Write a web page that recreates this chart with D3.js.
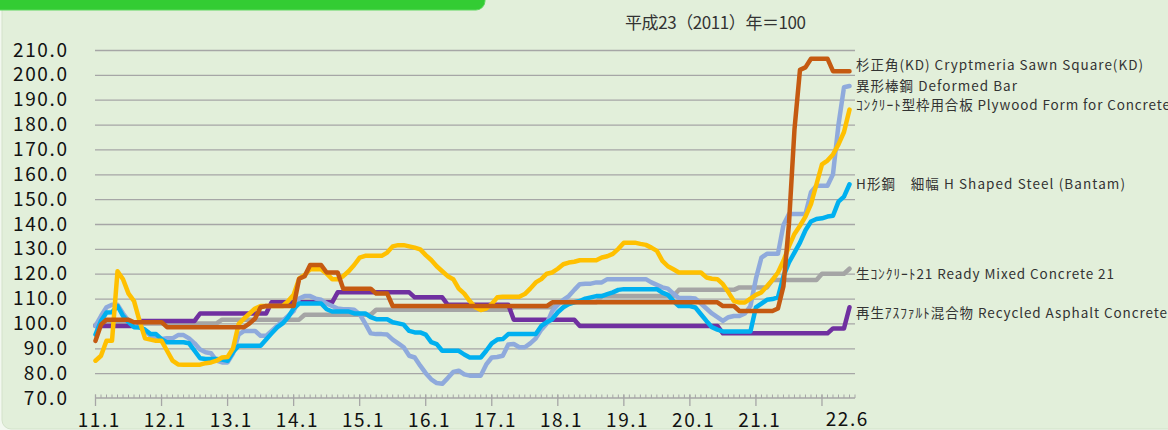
<!DOCTYPE html>
<html>
<head>
<meta charset="utf-8">
<script src="https://cdn.jsdelivr.net/npm/d3@7"></script>
<style>
  html, body { margin: 0; padding: 0; background: #f3f8f0; }
  svg { display: block; }
  text { font-family: 'Noto Sans CJK JP', 'Noto Sans', sans-serif; }
</style>
</head>
<body>
<svg id="chart" width="1168" height="430"></svg>
<script>
// months 2011.1 .. 2022.6
const months = []
for (let yr = 11; yr <= 22; yr++) {
  for (let m = 1; m <= 12; m++) {
    if (yr === 22 && m > 6) break
    months.push(`${yr}.${m}`)
  }
}

const yTicks = [70, 80, 90, 100, 110, 120, 130, 140, 150, 160, 170, 180, 190, 200, 210]
const yearTicks = ['11.1', '12.1', '13.1', '14.1', '15.1', '16.1', '17.1', '18.1', '19.1', '20.1', '21.1', '22.1']
const xLabels = ['11.1', '12.1', '13.1', '14.1', '15.1', '16.1', '17.1', '18.1', '19.1', '20.1', '21.1', '22.6']

const names = [
  '杉正角(KD) Cryptmeria Sawn Square(KD)',
  '異形棒鋼 Deformed Bar',
  'ｺﾝｸﾘｰﾄ型枠用合板 Plywood Form for Concrete',
  'H形鋼　細幅 H Shaped Steel (Bantam)',
  '生ｺﾝｸﾘｰﾄ21 Ready Mixed Concrete 21',
  '再生ｱｽﾌｧﾙﾄ混合物 Recycled Asphalt Concrete'
]

// one row per year
const sugi = [
  93, 99.5, 101.5, 101.5, 101.5, 101.5, 101.5, 100.5, 100.5, 100.5, 100.5, 100.5,
  100.5, 98.5, 98.5, 98.5, 98.5, 98.5, 98.5, 98.5, 98.5, 98.5, 98.5, 98.5,
  98.5, 98.5, 98.5, 98.5, 100, 102, 106.5, 107, 107, 107, 107, 107,
  107, 118, 119, 123.5, 123.5, 123.5, 120.5, 120.5, 120.5, 114, 114, 114,
  114, 114, 114, 112, 112, 112, 107, 107, 107, 107, 107, 107,
  107, 107, 107, 107, 107, 107, 107, 107, 107, 107, 107, 107,
  107, 107, 107, 107, 107, 107, 107, 107, 107, 107, 107, 108.5,
  108.5, 108.5, 108.5, 108.5, 108.5, 108.5, 108.5, 108.5, 108.5, 108.5, 108.5, 108.5,
  108.5, 108.5, 108.5, 108.5, 108.5, 108.5, 108.5, 108.5, 108.5, 108.5, 108.5, 108.5,
  108.5, 108.5, 108.5, 108.5, 108.5, 108.5, 107, 107, 107, 105, 105, 105,
  105, 105, 105, 105, 106, 115, 140, 178, 202, 203, 206.5, 206.5,
  206.5, 206.5, 201.5, 201.5, 201.5, 201.5
]

const deformedBar = [
  99, 103, 106.5, 107.5, 107.5, 104, 101, 99, 98.5, 97, 95, 94,
  93.7, 94, 94, 95.3, 95.3, 94, 92, 89.5, 88.4, 88, 85, 84.3,
  84.3, 88, 95.5, 97, 97, 97, 95, 95, 97, 99, 101, 103,
  105, 110, 111, 111, 110, 109.5, 108, 107, 106, 105.7, 105.7, 105.5,
  103.7, 100, 96, 95.7, 95.7, 95.5, 93.5, 92, 90.4, 87, 86.3, 83,
  80, 77.5, 76, 75.7, 78, 80.5, 81, 79.5, 79, 79, 79, 83.5,
  86.3, 86.5, 87, 91.5, 91.7, 90.4, 90.4, 92, 94, 97.5, 100, 105,
  107.5, 109.5, 111, 113.5, 115.8, 116, 116, 116.5, 116.5, 117.8, 117.8, 117.8,
  117.8, 117.8, 117.8, 117.8, 117.8, 116.5, 115.5, 114.5, 114, 112, 110.2, 110.2,
  110.2, 110, 108, 106, 104, 102.5, 101, 102.5, 103, 103, 104, 107,
  118, 126.5, 128, 128, 128, 139.6, 144, 144, 144, 144, 152.8, 155.4,
  155.4, 155.4, 160, 180, 195, 195.5
]

const plywood = [
  85, 87, 93, 93, 121, 117.8, 112, 109, 101, 94, 93.5, 93,
  93, 89, 85, 83.5, 83.4, 83.4, 83.4, 83.4, 84, 84.3, 85, 86.3,
  86.5, 90, 99.7, 102, 104, 106, 107, 107, 107, 107, 107, 109,
  111.5, 118, 119.5, 121.8, 121.8, 121.8, 120, 117.8, 117.8, 119, 121, 123.5,
  126.5, 127.2, 127.2, 127.2, 127.2, 128.5, 131, 131.5, 131.5, 131, 130.5, 129.8,
  127.5, 125.5, 123, 121, 119, 117.8, 114, 112, 109, 106.5, 105.4, 106,
  107.8, 110.5, 110.7, 110.7, 110.7, 110.7, 111.8, 114, 116.5, 117.8, 120, 120.5,
  122, 123.8, 124.5, 124.8, 125.4, 125.4, 125.4, 125.4, 126.5, 127, 128, 130,
  132.5, 132.5, 132.5, 132, 131.6, 130.5, 129.2, 125.2, 123, 121.8, 120.5, 120.5,
  120.5, 120.5, 120.5, 118.5, 118, 117.8, 115.8, 112.5, 109, 108.4, 108.4, 110,
  111.5, 112.5, 115, 117.5, 120.5, 125.2, 131, 136, 139.3, 143, 148, 156,
  164, 165.5, 168, 172, 177, 186
]

const hSteel = [
  95.5, 101, 104.4, 104.5, 107, 103, 100.5, 98.5, 98.4, 97.5, 95.7, 95.7,
  93.7, 92.4, 92.4, 92.4, 92.4, 92, 89, 86, 85.7, 85.7, 85.7, 85.5,
  85, 88.5, 91, 91, 91, 91, 91, 93.5, 96, 98.4, 100, 102.5,
  106, 108, 108, 108, 108, 108, 105.7, 104.8, 104.8, 104.8, 104.8, 104,
  104, 104, 102.5, 101.7, 101.7, 101.7, 100.5, 100, 99.5, 97, 96.4, 96.4,
  95.5, 92.5, 91.7, 89, 89, 89, 89, 87.5, 86.3, 86.3, 86.3, 89,
  92, 93.5, 93.7, 95.7, 95.7, 95.7, 95.7, 95.7, 95.7, 99, 100.5, 101.7,
  104.5, 106.5, 107.8, 108.5, 109, 110, 110.5, 111, 111, 111.8, 112.5, 113.5,
  113.8, 113.8, 113.8, 113.8, 113.8, 113.8, 113.8, 112.4, 111.5, 109, 107, 107,
  107, 106.4, 103.7, 101, 98.5, 97.5, 96.8, 96.8, 96.8, 96.8, 96.8, 96.8,
  106.5, 108, 109.5, 109.8, 110.5, 119, 124.5, 128.5, 132.5, 137.5, 141, 142,
  142.3, 143, 143.3, 149, 151, 156
]

const readyMixed = [
  99.5, 100, 100, 100, 100, 100, 100, 100, 100, 100, 100, 100,
  100, 100, 100, 100, 100, 100, 100, 100, 100, 100, 100, 101.5,
  101.5, 101.5, 101.5, 101.5, 101.5, 101.5, 101.5, 101.5, 101.5, 101.5, 101.5, 101.5,
  101.5, 101.5, 103.5, 103.5, 103.5, 103.5, 103.5, 103.5, 103.5, 103.5, 103.5, 103.5,
  103.5, 103.5, 103.5, 105.5, 105.5, 105.5, 105.5, 105.5, 105.5, 105.5, 105.5, 105.5,
  105.5, 105.5, 105.5, 105.5, 105.5, 105.5, 105.5, 105.5, 105.5, 105.5, 105.5, 105.5,
  105.5, 105.5, 105.5, 105.5, 106.5, 106.5, 106.5, 106.5, 106.5, 106.5, 106.5, 106.5,
  108.5, 108.5, 108.5, 108.5, 108.5, 108.5, 108.5, 108.5, 111, 111, 111, 111,
  111, 111, 111, 111, 111, 111, 111, 111, 111, 111, 113.5, 113.5,
  113.5, 113.5, 113.5, 113.5, 113.5, 113.5, 113.5, 113.5, 113.5, 114.5, 114.5, 114.5,
  114.5, 114.5, 114.5, 117.5, 117.5, 117.5, 117.5, 117.5, 117.5, 117.5, 117.5, 117.5,
  120, 120, 120, 120, 120, 122
]

const asphalt = [
  99, 99, 99, 99, 99, 99, 99, 99, 101, 101, 101, 101,
  101, 101, 101, 101, 101, 101, 101, 104, 104, 104, 104, 104,
  104, 104, 104, 104, 104, 104, 104, 104, 108.5, 108.5, 108.5, 108.5,
  108.5, 108.5, 108.5, 108.5, 108.5, 108.5, 108.5, 108.5, 112.5, 112.5, 112.5, 112.5,
  112.5, 112.5, 112.5, 112.5, 112.5, 112.5, 112.5, 112.5, 112.5, 112.5, 110.5, 110.5,
  110.5, 110.5, 110.5, 110.5, 107.5, 107.5, 107.5, 107.5, 107.5, 107.5, 107.5, 107.5,
  107.5, 107.5, 107.5, 107.5, 101.5, 101.5, 101.5, 101.5, 101.5, 101.5, 101.5, 101.5,
  101.5, 101.5, 101.5, 101.5, 99, 99, 99, 99, 99, 99, 99, 99,
  99, 99, 99, 99, 99, 99, 99, 99, 99, 99, 99, 99,
  99, 99, 99, 99, 99, 99, 96, 96, 96, 96, 96, 96,
  96, 96, 96, 96, 96, 96, 96, 96, 96, 96, 96, 96,
  96, 96, 98, 98, 98, 106.5
]

const series = [sugi, deformedBar, plywood, hSteel, readyMixed, asphalt]
const colors = ['#c55a11', '#8faadc', '#ffc000', '#00b0f0', '#a5a5a5', '#7030a0']
const drawOrder = [4, 5, 1, 3, 2, 0]
// nudge end labels so they don't collide
const labelShift = [-6, 0, -4, 0, 6, 6]

const svg = d3.select('#chart')
const W = 1168
const H = 430

// panel + green header tab
svg.append('rect')
  .attr('x', 2).attr('y', -20)
  .attr('width', W + 20).attr('height', H + 19)
  .attr('rx', 9)
  .attr('fill', '#e2efda')
  .attr('stroke', '#d3e2ca')

svg.append('rect')
  .attr('x', -12).attr('y', -20)
  .attr('width', 497).attr('height', 30)
  .attr('rx', 9)
  .attr('fill', '#33cc33')
  .attr('stroke', '#5fd85f')
  .attr('stroke-width', 1)

const xPositionScale = d3.scalePoint().domain(months).range([95.5, 849.5])
const yPositionScale = d3.scaleLinear().domain([70, 210]).range([398, 50])
const xEnd = xPositionScale(months[months.length - 1]) + xPositionScale.step()

// gridlines + y labels
const yAxis = d3.axisLeft(yPositionScale)
  .tickValues(yTicks)
  .tickSize(-(xEnd - 95))
  .tickPadding(28)
  .tickFormat(d3.format('.1f'))

const yG = svg.append('g')
  .attr('class', 'axis y-axis')
  .attr('transform', 'translate(95,0)')
  .call(yAxis)
yG.select('.domain').remove()
yG.selectAll('.tick line')
  .attr('stroke', '#a6a6a6')
  .attr('stroke-width', 1.3)
  .filter(d => d === 70).remove()
yG.selectAll('.tick text')
  .attr('font-size', 19)
  .attr('fill', '#111')
  .attr('font-family', "'Noto Sans CJK JP', sans-serif")
  .attr('textLength', function(d) { return d3.format('.1f')(d).length * 10.8 })
  .attr('lengthAdjust', 'spacing')

// x axis: base line, monthly minor ticks, yearly major ticks
const xG = svg.append('g').attr('class', 'axis x-axis')
  .attr('transform', 'translate(0,' + yPositionScale(70) + ')')

xG.append('line')
  .attr('x1', 95).attr('x2', xEnd)
  .attr('stroke', '#a6a6a6').attr('stroke-width', 1.5)

xG.selectAll('.minor')
  .data(months.concat(['end']))
  .enter()
  .append('line')
  .attr('class', 'minor')
  .attr('x1', d => d === 'end' ? xEnd : xPositionScale(d))
  .attr('x2', d => d === 'end' ? xEnd : xPositionScale(d))
  .attr('y1', -3.5).attr('y2', 0)
  .attr('stroke', '#a6a6a6').attr('stroke-width', 1)

xG.selectAll('.major')
  .data(yearTicks)
  .enter()
  .append('line')
  .attr('class', 'major')
  .attr('x1', d => xPositionScale(d))
  .attr('x2', d => xPositionScale(d))
  .attr('y1', -3.5).attr('y2', 8)
  .attr('stroke', '#a6a6a6').attr('stroke-width', 1.3)

svg.append('g')
  .selectAll('text')
  .data(xLabels)
  .enter()
  .append('text')
  .text(d => d)
  .attr('x', (d, i) => xPositionScale(d) + (i === xLabels.length - 1 ? -3 : 3))
  .attr('y', (d, i) => i === xLabels.length - 1 ? 426 : 427)
  .attr('text-anchor', 'middle')
  .attr('font-size', 19)
  .attr('fill', '#111')
  .attr('textLength', d => d.length * 10.4)
  .attr('lengthAdjust', 'spacing')

// lines
const line = d3.line()
  .x((d, i) => xPositionScale(months[i]))
  .y(d => yPositionScale(d))

svg.append('g')
  .selectAll('path')
  .data(drawOrder)
  .enter()
  .append('path')
  .attr('d', k => line(series[k]))
  .attr('fill', 'none')
  .attr('stroke', k => colors[k])
  .attr('stroke-width', 4.5)
  .attr('stroke-linejoin', 'round')
  .attr('stroke-linecap', 'round')

// end labels
const labelWidths = [287, 161, 314, 269, 258, 311]
svg.append('g')
  .selectAll('text')
  .data(names)
  .enter()
  .append('text')
  .text(d => d)
  .attr('x', 856)
  .attr('y', (d, i) => yPositionScale(series[i][series[i].length - 1]) + labelShift[i])
  .attr('dy', '0.35em')
  .attr('font-size', 13.5)
  .attr('fill', '#333')
  .attr('textLength', (d, i) => labelWidths[i])
  .attr('lengthAdjust', 'spacing')

// base year note
svg.append('text')
  .text('平成23（2011）年＝100')
  .attr('x', 625)
  .attr('y', 29)
  .attr('font-size', 17)
  .attr('fill', '#333')
  .attr('textLength', 181)
  .attr('lengthAdjust', 'spacing')
</script>
</body>
</html>
